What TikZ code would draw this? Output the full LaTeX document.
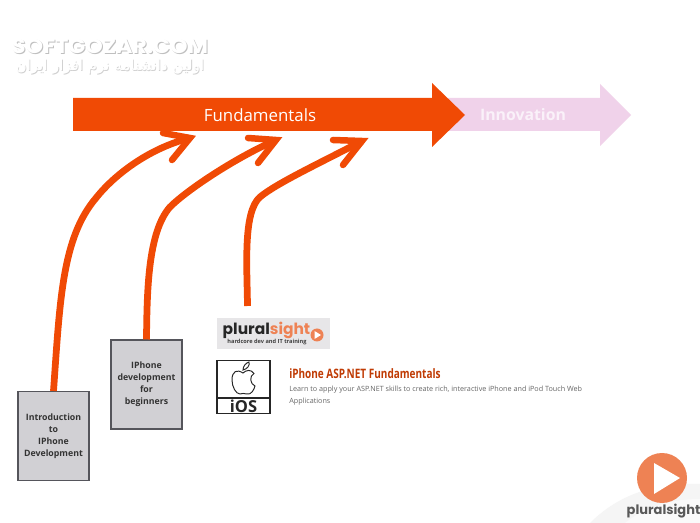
\documentclass[tikz,border=0pt]{standalone}
\usepackage{fontspec}
\usepackage{tikz}
\setmainfont{Open Sans}
\newfontfamily\arabicfont[Script=Arabic]{DejaVu Sans}
\newfontfamily\logofont{Poppins}
\TeXXeTstate=1
\definecolor{fundorange}{HTML}{F04A05}
\definecolor{innopink}{HTML}{F0D2EA}
\definecolor{boxgrey}{HTML}{D1D0D4}
\definecolor{boxedge}{HTML}{55555B}
\definecolor{logogrey}{HTML}{E7E6E8}
\definecolor{playorange}{HTML}{EE8254}
\begin{document}
\begin{tikzpicture}[x=0.02cm,y=-0.02cm,every text node part/.style={align=center},
  coursebox/.style={draw=boxedge,fill=boxgrey,line width=0.6pt,minimum width=1.42cm,minimum height=1.78cm,inner sep=0pt,text=black!80,font=\fontsize{5}{6.9}\selectfont\bfseries},
  feeder/.style={draw=fundorange,line width=0.135cm,line join=round},
  barb/.style={draw=fundorange,line width=0.13cm,line join=miter,line cap=round},
  bigtext/.style={font=\fontsize{9.6}{11}\selectfont,inner sep=0pt},
  markshadow/.style={text=black!25,xscale=1.1,font=\logofont\fontsize{11.5}{13}\selectfont\bfseries,inner sep=0pt},
  markfront/.style={text=white,xscale=1.1,font=\logofont\fontsize{11.5}{13}\selectfont\bfseries,inner sep=0pt},
  persianshadow/.style={text=black!18,font=\arabicfont\fontsize{8.5}{10}\selectfont,inner sep=0pt},
  persianfront/.style={text=white,font=\arabicfont\fontsize{8.5}{10}\selectfont,inner sep=0pt}]
\fill[white] (0,0) rectangle (700,523);
\useasboundingbox (0,0) rectangle (700,523);
% corner swoosh
\fill[black!4] (590,523) .. controls (615,498) and (650,482) .. (700,484) -- (700,523) -- cycle;
\fill[black!2] (625,523) .. controls (645,507) and (670,499) .. (700,499) -- (700,523) -- cycle;
% watermark
\node[markshadow] (markback) at (111,47.2) {SOFTGOZAR.COM};
\node[markfront] (mark) at (110,46.2) {SOFTGOZAR.COM};
\node[persianshadow] (persianback) at (110.8,67.8) {\beginR اولین دانشنامه نرم افزار ایران\endR};
\node[persianfront] (persian) at (110,67) {\beginR اولین دانشنامه نرم افزار ایران\endR};
% big arrows
\fill[innopink] (440,98) -- (600,98) -- (600,84) -- (631,115) -- (600,146) -- (600,131) -- (440,131) -- cycle;
\fill[fundorange] (73,98) -- (432,98) -- (432,83) -- (465,115) -- (432,147) -- (432,131) -- (73,131) -- cycle;
\node[bigtext,text=white] (fundamentals) at (260,115) {Fundamentals};
\node[bigtext,text=white!70!innopink,font=\fontsize{9}{11}\selectfont\bfseries] (innovation) at (523,115) {Innovation};
% courses
\node[coursebox] (intro) at (53.5,436) {Introduction\\to\\IPhone\\Development};
\node[coursebox] (beginners) at (146.5,384.5) {IPhone\\development\\for\\beginners};
\node[fill=logogrey,minimum width=2.26cm,minimum height=0.62cm,inner sep=0pt] (logo) at (273.5,333.5) {};
\node[inner sep=0pt,text=black!85,font=\logofont\fontsize{8.8}{10}\selectfont\bfseries] (logoname) at (266.5,330) {plural\textcolor{playorange}{sight}};
\node[inner sep=0pt,text=black!75,font=\fontsize{3.2}{4}\selectfont\bfseries] (logotag) at (267,342) {hardcore dev and IT training};
\fill[playorange] (317,335) circle (6.5);
\fill[white] (314.5,331) -- (321,335) -- (314.5,339) -- cycle;
\node[draw=black!85,fill=white,line width=0.7pt,minimum width=1.06cm,minimum height=1.06cm,inner sep=0pt] (ios) at (243.5,387) {};
\draw[black!85,line width=0.7pt] (217,398) -- (270,398);
\node[inner sep=0pt,text=black!85,font=\fontsize{9.4}{11}\selectfont\bfseries] (iostext) at (243.5,406.2) {iOS};
% apple
\draw[black!85,line width=0.55pt] (243,373) .. controls (237,369) and (232,371) .. (232,380) .. controls (232,387) and (236,394) .. (240,394) .. controls (242,394) and (244,392.5) .. (247,394) .. controls (251,395) and (254,390) .. (255,386) .. controls (250,384) and (249,376) .. (254,373.5) .. controls (251,369) and (246,370) .. (243,373) -- cycle;
\draw[black!85,line width=0.55pt] (243,370) .. controls (243,366) and (246,363) .. (249,362) .. controls (250,366) and (247,369) .. (243,370) -- cycle;
% course description
\node[anchor=west,inner sep=0pt,text=fundorange!80!black,xscale=0.77,font=\fontsize{7.4}{9}\selectfont\bfseries] (title) at (289,374) {iPhone ASP.NET Fundamentals};
\node[anchor=west,inner sep=0pt,text=black!60,font=\fontsize{4.1}{5}\selectfont] (descone) at (289,390) {Learn to apply your ASP.NET skills to create rich, interactive iPhone and iPod Touch Web};
\node[anchor=west,inner sep=0pt,text=black!60,font=\fontsize{4.1}{5}\selectfont] (desctwo) at (289,402) {Applications};
% connectors
\coordinate (tipone) at (190,138);
\coordinate (tiptwo) at (276,140);
\coordinate (tipthree) at (362,141);
\coordinate (logotop) at (247.5,306);
\coordinate (bendone) at (96,198);
\coordinate (bendtwo) at (170,207);
\coordinate (bendthree) at (260,197);
\draw[feeder] (intro.north) .. controls (60,300) and (62,238) .. (bendone) .. controls (115,174) and (150,148) .. (tipone);
\draw[feeder] (beginners.north) .. controls (147,290) and (148,232) .. (bendtwo) .. controls (187,190) and (235,158) .. (tiptwo);
\draw[feeder] (logotop) .. controls (247,265) and (243,212) .. (bendthree) .. controls (277,183) and (320,163) .. (tipthree);
\coordinate (barboneup) at (163,133);
\coordinate (barbonedown) at (172,160);
\coordinate (barbtwoup) at (248,138);
\coordinate (barbtwodown) at (258,163);
\coordinate (barbthreeup) at (333,140);
\coordinate (barbthreedown) at (343,165);
\draw[barb] (barboneup) -- (tipone) -- (barbonedown);
\draw[barb] (barbtwoup) -- (tiptwo) -- (barbtwodown);
\draw[barb] (barbthreeup) -- (tipthree) -- (barbthreedown);
% bottom corner
\fill[playorange] (662,478) circle (25);
\node[inner sep=0pt,text=black!65,font=\logofont\fontsize{7.4}{9}\selectfont\bfseries] (brand) at (663.5,511) {pluralsight};
\fill[white] (654,463) -- (680,478) -- (654,494) -- cycle;
\end{tikzpicture}
\end{document}
